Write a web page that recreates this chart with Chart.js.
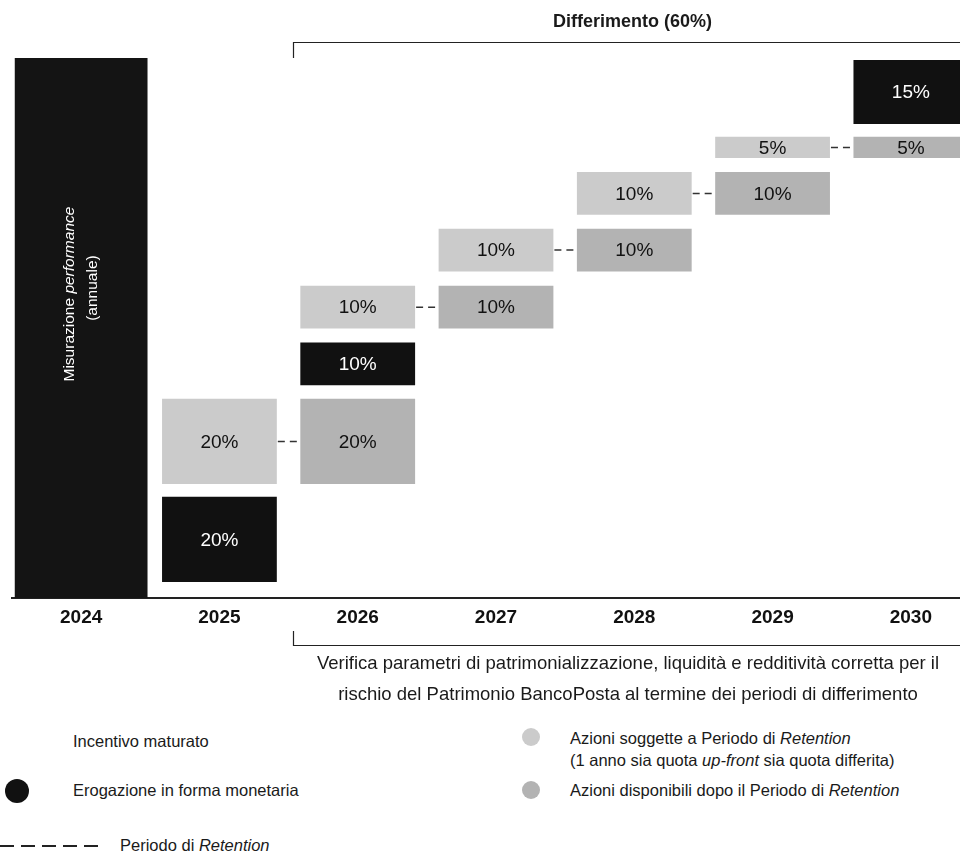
<!DOCTYPE html>
<html>
<head>
<meta charset="utf-8">
<script src="https://cdn.jsdelivr.net/npm/chart.js@4"></script>
<style>
  html, body { margin: 0; padding: 0; background: #fff; overflow: hidden; }
  body { width: 960px; height: 856px; position: relative; font-family: "Liberation Sans", Arial, sans-serif; color: #1a1a1a; }
  #wrap { position: absolute; left: 0; top: 0; width: 980px; height: 700px; }
  .t { position: absolute; white-space: nowrap; }
  .dot { position: absolute; border-radius: 50%; }
  .leg { font-size: 16.5px; }
</style>
</head>
<body>
<div id="wrap"><canvas id="incentivechart"></canvas></div>

<div class="t" style="left:553px; top:11px; font-weight:bold; font-size:18px;">Differimento (60%)</div>

<div class="t" style="left:0; width:1256px; top:647px; font-size:18.5px; text-align:center; line-height:31px;">
  Verifica parametri di patrimonializzazione, liquidità e redditività corretta per il<br>
  rischio del Patrimonio BancoPosta al termine dei periodi di differimento
</div>

<div class="t leg" style="left:73px; top:732px;">Incentivo maturato</div>
<div class="dot" style="left:5px; top:779px; width:24px; height:24px; background:#111;"></div>
<div class="t leg" style="left:73px; top:781px;">Erogazione in forma monetaria</div>
<div class="t" style="left:0; top:845px; width:100px; height:1.5px; background:repeating-linear-gradient(to right, #222 0 14px, transparent 14px 21px);"></div>
<div class="t leg" style="left:120px; top:836px;">Periodo di <i>Retention</i></div>

<div class="dot" style="left:522px; top:728px; width:18px; height:18px; background:#cbcbcb;"></div>
<div class="t leg" style="left:570px; top:727px; line-height:22px;">Azioni soggette a Periodo di <i>Retention</i><br>(1 anno sia quota <i>up-front</i> sia quota differita)</div>
<div class="dot" style="left:522px; top:781px; width:18px; height:18px; background:#b3b3b3;"></div>
<div class="t leg" style="left:570px; top:781px;">Azioni disponibili dopo il Periodo di <i>Retention</i></div>

<script>
var ctx = document.getElementById('incentivechart').getContext('2d');

var years = ['2024', '2025', '2026', '2027', '2028', '2029', '2030'];

// performance measurement year (full height bar)
var performanceBar = [[0, 126.8], null, null, null, null, null, null];

// cash payments (dark)
var cashRange = [null, [3.8, 23.8], [50, 60], null, null, null, [111.3, 126.3]];
var cashPct = [null, 20, 10, null, null, null, 15];

// shares under retention (light grey)
var retentionRange = [null, [26.8, 46.8], [63.3, 73.3], [76.7, 86.7], [90, 100], [103.3, 108.3], null];
var retentionPct = [null, 20, 10, 10, 10, 5, null];

// shares available after retention (mid grey)
var availableRange = [null, null, [26.8, 46.8], [63.3, 73.3], [76.7, 86.7], [90, 100], [103.3, 108.3]];
var availablePct = [null, null, 20, 10, 10, 10, 5];

var boxLabels = {
    cash: cashPct,
    retention: retentionPct,
    available: availablePct
};

var overlay = {
    id: 'overlay',
    afterDatasetsDraw: function (chart) {
        var c = chart.ctx;
        var xs = chart.scales.x;
        c.save();

        // percentage labels inside boxes
        c.textAlign = 'center';
        c.textBaseline = 'middle';
        c.font = '19px "Liberation Sans", Arial, sans-serif';
        chart.data.datasets.forEach(function (ds, di) {
            var pct = boxLabels[ds.key];
            if (!pct) return;
            chart.getDatasetMeta(di).data.forEach(function (bar, i) {
                if (pct[i] == null) return;
                c.fillStyle = ds.key === 'cash' ? '#ffffff' : '#111111';
                c.fillText(pct[i] + '%', bar.x, (bar.y + bar.base) / 2 + 1);
            });
        });

        // retention connectors (light box -> mid box)
        var retMeta = chart.getDatasetMeta(2).data;
        var avMeta = chart.getDatasetMeta(3).data;
        c.strokeStyle = '#333';
        c.lineWidth = 1.5;
        c.setLineDash([7, 5]);
        for (var i = 0; i < years.length - 1; i++) {
            if (retentionRange[i] && availableRange[i + 1]) {
                var a = retMeta[i], b = avMeta[i + 1];
                var yMid = (a.y + a.base) / 2;
                c.beginPath();
                c.moveTo(a.x + a.width / 2 + 1, yMid);
                c.lineTo(b.x - b.width / 2 - 1, yMid);
                c.stroke();
            }
        }
        c.setLineDash([]);

        // rotated label in the performance bar
        var pb = chart.getDatasetMeta(0).data[0];
        c.save();
        c.translate(pb.x - 3, (pb.y + pb.base) / 2 - 34);
        c.rotate(-Math.PI / 2);
        c.fillStyle = '#ffffff';
        c.textAlign = 'left';
        c.textBaseline = 'middle';
        var f1 = '15.5px "Liberation Sans", Arial, sans-serif';
        var f2 = 'italic 15.5px "Liberation Sans", Arial, sans-serif';
        c.font = f1;
        var w1 = c.measureText('Misurazione ').width;
        c.font = f2;
        var w2 = c.measureText('performance').width;
        var start = -(w1 + w2) / 2;
        c.font = f1;
        c.fillText('Misurazione ', start, -8);
        c.font = f2;
        c.fillText('performance', start + w1, -8);
        c.font = f1;
        c.textAlign = 'center';
        c.fillText('(annuale)', 6, 15);
        c.restore();

        // deferral brackets
        var bx = Math.round(xs.getPixelForValue(1.53)) + 0.5;
        c.strokeStyle = '#222';
        c.lineWidth = 1.2;
        c.beginPath();
        c.moveTo(bx, 58);
        c.lineTo(bx, 42.5);
        c.lineTo(980, 42.5);
        c.stroke();
        c.beginPath();
        c.moveTo(bx, 631);
        c.lineTo(bx, 645.5);
        c.lineTo(980, 645.5);
        c.stroke();

        c.restore();
    }
};

var incentivechart = new Chart(ctx, {
    type: 'bar',
    data: {
        labels: years,
        datasets: [{
            key: 'performance',
            data: performanceBar,
            backgroundColor: '#141414',
            barPercentage: 0.96,
            categoryPercentage: 1
        }, {
            key: 'cash',
            data: cashRange,
            backgroundColor: '#111111',
            barPercentage: 0.83,
            categoryPercentage: 1
        }, {
            key: 'retention',
            data: retentionRange,
            backgroundColor: '#cbcbcb',
            barPercentage: 0.83,
            categoryPercentage: 1
        }, {
            key: 'available',
            data: availableRange,
            backgroundColor: '#b3b3b3',
            barPercentage: 0.83,
            categoryPercentage: 1
        }]
    },
    options: {
        responsive: true,
        maintainAspectRatio: false,
        animation: false,
        grouped: false,
        layout: {
            padding: { left: 12, right: 0, top: 40, bottom: 63 }
        },
        plugins: {
            legend: { display: false },
            tooltip: { enabled: false }
        },
        scales: {
            x: {
                grid: { display: false, drawTicks: false },
                border: { display: true, color: '#222', width: 2 },
                ticks: {
                    padding: 8,
                    color: '#111',
                    font: { family: '"Liberation Sans", Arial, sans-serif', size: 19, weight: 'bold' }
                }
            },
            y: {
                display: false,
                min: 0,
                max: 131
            }
        }
    },
    plugins: [overlay]
});
</script>
</body>
</html>
